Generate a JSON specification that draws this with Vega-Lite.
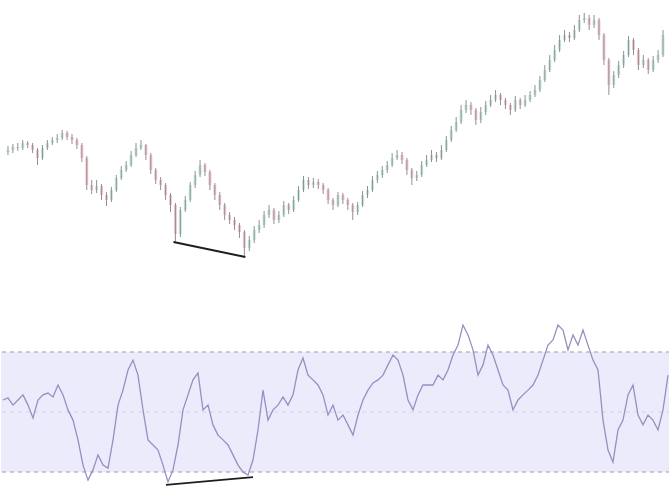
{
"$schema": "https://vega.github.io/schema/vega-lite/v6.json",
"padding": 0,
"spacing": 0,
"background": "white",
"config": {"view": {"stroke": null}},
"datasets": {
"bars": [
{"i":0,"o":148,"h":154,"l":145,"c":150,"r":54.0},
{"i":1,"o":150,"h":156,"l":147,"c":153,"r":54.7},
{"i":2,"o":153,"h":157,"l":149,"c":152,"r":52.3},
{"i":3,"o":152,"h":160,"l":150,"c":157,"r":54.0},
{"i":4,"o":157,"h":159,"l":152,"c":155,"r":55.7},
{"i":5,"o":155,"h":157,"l":147,"c":150,"r":52.3},
{"i":6,"o":150,"h":152,"l":135,"c":142,"r":48.0},
{"i":7,"o":142,"h":155,"l":140,"c":152,"r":54.0},
{"i":8,"o":152,"h":160,"l":150,"c":157,"r":55.7},
{"i":9,"o":157,"h":163,"l":155,"c":160,"r":56.3},
{"i":10,"o":160,"h":166,"l":157,"c":162,"r":55.0},
{"i":11,"o":162,"h":170,"l":160,"c":167,"r":59.0},
{"i":12,"o":167,"h":169,"l":160,"c":163,"r":55.7},
{"i":13,"o":163,"h":166,"l":156,"c":160,"r":50.7},
{"i":14,"o":160,"h":162,"l":151,"c":155,"r":47.3},
{"i":15,"o":155,"h":157,"l":138,"c":142,"r":40.7},
{"i":16,"o":142,"h":144,"l":110,"c":115,"r":32.3},
{"i":17,"o":115,"h":120,"l":106,"c":110,"r":27.3},
{"i":18,"o":110,"h":120,"l":107,"c":114,"r":30.7},
{"i":19,"o":114,"h":116,"l":100,"c":105,"r":35.7},
{"i":20,"o":105,"h":108,"l":94,"c":100,"r":32.3},
{"i":21,"o":100,"h":113,"l":98,"c":110,"r":31.3},
{"i":22,"o":110,"h":125,"l":108,"c":122,"r":40.7},
{"i":23,"o":122,"h":134,"l":120,"c":130,"r":52.3},
{"i":24,"o":130,"h":139,"l":128,"c":135,"r":57.3},
{"i":25,"o":135,"h":149,"l":133,"c":145,"r":64.0},
{"i":26,"o":145,"h":157,"l":143,"c":152,"r":67.3},
{"i":27,"o":152,"h":160,"l":150,"c":155,"r":62.3},
{"i":28,"o":155,"h":156,"l":140,"c":145,"r":50.7},
{"i":29,"o":145,"h":147,"l":126,"c":130,"r":40.7},
{"i":30,"o":130,"h":132,"l":116,"c":120,"r":39.0},
{"i":31,"o":120,"h":123,"l":110,"c":115,"r":37.3},
{"i":32,"o":115,"h":117,"l":100,"c":105,"r":32.3},
{"i":33,"o":105,"h":107,"l":88,"c":95,"r":26.7},
{"i":34,"o":95,"h":97,"l":58,"c":66,"r":30.7},
{"i":35,"o":66,"h":93,"l":63,"c":90,"r":39.0},
{"i":36,"o":90,"h":104,"l":88,"c":100,"r":50.7},
{"i":37,"o":100,"h":118,"l":98,"c":115,"r":55.7},
{"i":38,"o":115,"h":129,"l":112,"c":125,"r":60.7},
{"i":39,"o":125,"h":140,"l":123,"c":135,"r":63.0},
{"i":40,"o":135,"h":137,"l":124,"c":128,"r":50.7},
{"i":41,"o":128,"h":130,"l":110,"c":115,"r":52.3},
{"i":42,"o":115,"h":117,"l":100,"c":105,"r":45.7},
{"i":43,"o":105,"h":108,"l":90,"c":95,"r":42.3},
{"i":44,"o":95,"h":97,"l":80,"c":85,"r":40.7},
{"i":45,"o":85,"h":88,"l":76,"c":80,"r":39.0},
{"i":46,"o":80,"h":83,"l":70,"c":75,"r":35.7},
{"i":47,"o":75,"h":77,"l":62,"c":68,"r":32.3},
{"i":48,"o":68,"h":70,"l":43,"c":52,"r":30.0},
{"i":49,"o":52,"h":64,"l":49,"c":60,"r":29.0},
{"i":50,"o":60,"h":74,"l":57,"c":70,"r":34.0},
{"i":51,"o":70,"h":80,"l":67,"c":75,"r":44.0},
{"i":52,"o":75,"h":89,"l":72,"c":85,"r":57.3},
{"i":53,"o":85,"h":95,"l":82,"c":90,"r":47.3},
{"i":54,"o":90,"h":92,"l":76,"c":80,"r":50.7},
{"i":55,"o":80,"h":89,"l":77,"c":85,"r":52.3},
{"i":56,"o":85,"h":99,"l":83,"c":95,"r":55.0},
{"i":57,"o":95,"h":97,"l":86,"c":90,"r":52.3},
{"i":58,"o":90,"h":104,"l":88,"c":100,"r":55.7},
{"i":59,"o":100,"h":114,"l":98,"c":110,"r":64.0},
{"i":60,"o":110,"h":124,"l":108,"c":120,"r":68.0},
{"i":61,"o":120,"h":123,"l":111,"c":115,"r":62.3},
{"i":62,"o":115,"h":122,"l":112,"c":118,"r":60.7},
{"i":63,"o":118,"h":121,"l":111,"c":115,"r":59.0},
{"i":64,"o":115,"h":117,"l":106,"c":110,"r":55.7},
{"i":65,"o":110,"h":112,"l":96,"c":100,"r":49.0},
{"i":66,"o":100,"h":102,"l":90,"c":95,"r":52.3},
{"i":67,"o":95,"h":108,"l":93,"c":105,"r":47.3},
{"i":68,"o":105,"h":107,"l":96,"c":100,"r":49.0},
{"i":69,"o":100,"h":102,"l":90,"c":95,"r":45.7},
{"i":70,"o":95,"h":97,"l":80,"c":88,"r":42.3},
{"i":71,"o":88,"h":98,"l":85,"c":95,"r":49.0},
{"i":72,"o":95,"h":109,"l":93,"c":105,"r":54.0},
{"i":73,"o":105,"h":114,"l":102,"c":110,"r":57.3},
{"i":74,"o":110,"h":124,"l":108,"c":120,"r":59.7},
{"i":75,"o":120,"h":129,"l":117,"c":125,"r":60.7},
{"i":76,"o":125,"h":134,"l":122,"c":130,"r":62.3},
{"i":77,"o":130,"h":139,"l":127,"c":135,"r":65.7},
{"i":78,"o":135,"h":147,"l":133,"c":142,"r":69.0},
{"i":79,"o":142,"h":150,"l":140,"c":145,"r":67.3},
{"i":80,"o":145,"h":148,"l":136,"c":140,"r":62.3},
{"i":81,"o":140,"h":142,"l":125,"c":130,"r":54.0},
{"i":82,"o":130,"h":132,"l":115,"c":122,"r":50.7},
{"i":83,"o":122,"h":129,"l":119,"c":125,"r":55.7},
{"i":84,"o":125,"h":139,"l":123,"c":135,"r":59.0},
{"i":85,"o":135,"h":145,"l":133,"c":140,"r":59.0},
{"i":86,"o":140,"h":150,"l":138,"c":145,"r":59.0},
{"i":87,"o":145,"h":148,"l":138,"c":142,"r":62.3},
{"i":88,"o":142,"h":155,"l":140,"c":150,"r":60.7},
{"i":89,"o":150,"h":164,"l":148,"c":160,"r":64.0},
{"i":90,"o":160,"h":174,"l":158,"c":170,"r":69.0},
{"i":91,"o":170,"h":183,"l":168,"c":178,"r":72.3},
{"i":92,"o":178,"h":195,"l":176,"c":190,"r":79.0},
{"i":93,"o":190,"h":200,"l":187,"c":195,"r":75.7},
{"i":94,"o":195,"h":198,"l":185,"c":190,"r":70.7},
{"i":95,"o":190,"h":192,"l":175,"c":180,"r":62.3},
{"i":96,"o":180,"h":193,"l":177,"c":188,"r":65.7},
{"i":97,"o":188,"h":199,"l":185,"c":195,"r":72.3},
{"i":98,"o":195,"h":205,"l":193,"c":200,"r":69.0},
{"i":99,"o":200,"h":210,"l":198,"c":205,"r":64.0},
{"i":100,"o":205,"h":207,"l":195,"c":200,"r":59.0},
{"i":101,"o":200,"h":202,"l":191,"c":195,"r":57.3},
{"i":102,"o":195,"h":197,"l":185,"c":190,"r":50.7},
{"i":103,"o":190,"h":204,"l":188,"c":200,"r":54.0},
{"i":104,"o":200,"h":202,"l":191,"c":195,"r":55.7},
{"i":105,"o":195,"h":205,"l":193,"c":200,"r":57.3},
{"i":106,"o":200,"h":209,"l":198,"c":205,"r":59.0},
{"i":107,"o":205,"h":215,"l":203,"c":210,"r":62.3},
{"i":108,"o":210,"h":224,"l":208,"c":220,"r":67.3},
{"i":109,"o":220,"h":235,"l":218,"c":230,"r":72.3},
{"i":110,"o":230,"h":245,"l":228,"c":240,"r":74.0},
{"i":111,"o":240,"h":255,"l":238,"c":250,"r":79.0},
{"i":112,"o":250,"h":265,"l":248,"c":260,"r":77.3},
{"i":113,"o":260,"h":270,"l":258,"c":265,"r":70.7},
{"i":114,"o":265,"h":268,"l":258,"c":262,"r":75.7},
{"i":115,"o":262,"h":275,"l":260,"c":270,"r":72.3},
{"i":116,"o":270,"h":285,"l":268,"c":280,"r":77.3},
{"i":117,"o":280,"h":287,"l":277,"c":282,"r":72.3},
{"i":118,"o":282,"h":285,"l":270,"c":275,"r":67.3},
{"i":119,"o":275,"h":285,"l":272,"c":280,"r":64.0},
{"i":120,"o":280,"h":282,"l":260,"c":265,"r":47.3},
{"i":121,"o":265,"h":267,"l":235,"c":240,"r":37.3},
{"i":122,"o":240,"h":242,"l":205,"c":215,"r":33.3},
{"i":123,"o":215,"h":229,"l":212,"c":225,"r":44.0},
{"i":124,"o":225,"h":239,"l":222,"c":235,"r":47.3},
{"i":125,"o":235,"h":249,"l":232,"c":245,"r":55.7},
{"i":126,"o":245,"h":264,"l":243,"c":260,"r":59.0},
{"i":127,"o":260,"h":262,"l":245,"c":250,"r":49.0},
{"i":128,"o":250,"h":252,"l":230,"c":235,"r":45.7},
{"i":129,"o":235,"h":245,"l":232,"c":240,"r":49.0},
{"i":130,"o":240,"h":242,"l":226,"c":230,"r":47.3},
{"i":131,"o":230,"h":244,"l":228,"c":240,"r":44.0},
{"i":132,"o":240,"h":250,"l":237,"c":245,"r":50.7},
{"i":133,"o":245,"h":270,"l":243,"c":265,"r":62.3}
],
"pdiv": [{"i":33.6,"v":58},{"i":48.2,"v":43}],
"rdiv": [{"i":32.6,"v":25.7},{"i":50.0,"v":28.3}],
"band": [{"lo":30,"hi":70}],
"levels": [{"v":70,"k":"a"},{"v":30,"k":"a"}],
"mid": [{"v":50}]
},
"vconcat": [
{
"width": 669,
"height": 300,
"layer": [
{
"data": {"name": "bars"},
"mark": {"type": "bar", "width": 3, "opacity": 0.75},
"encoding": {
"x": {"field": "i", "type": "quantitative", "scale": {"domain": [-0.4, 133.4], "nice": false, "zero": false}, "axis": null},
"y": {"field": "o", "type": "quantitative", "scale": {"domain": [0, 300], "nice": false, "zero": false}, "axis": null},
"y2": {"field": "c"},
"color": {"condition": {"test": "datum.c >= datum.o", "value": "#b3e3d6"}, "value": "#f3b6c0"}
}
},
{
"data": {"name": "bars"},
"mark": {"type": "rule", "color": "#909090", "strokeWidth": 1},
"encoding": {
"x": {"field": "i", "type": "quantitative"},
"y": {"field": "l", "type": "quantitative"},
"y2": {"field": "h"}
}
},
{
"data": {"name": "pdiv"},
"mark": {"type": "line", "color": "#1e1e1e", "strokeWidth": 2},
"encoding": {
"x": {"field": "i", "type": "quantitative"},
"y": {"field": "v", "type": "quantitative"}
}
}
]
},
{
"width": 669,
"height": 194,
"layer": [
{
"data": {"name": "band"},
"mark": {"type": "rect", "color": "#ecebfb"},
"encoding": {
"y": {"field": "lo", "type": "quantitative", "scale": {"domain": [22.667, 87.333], "nice": false, "zero": false}, "axis": null},
"y2": {"field": "hi"}
}
},
{
"data": {"name": "levels"},
"mark": {"type": "rule", "color": "#9a9aa6", "strokeWidth": 1, "strokeDash": [4, 4]},
"encoding": {"y": {"field": "v", "type": "quantitative"}}
},
{
"data": {"name": "mid"},
"mark": {"type": "rule", "color": "#d4d3e6", "strokeWidth": 1, "strokeDash": [4, 4]},
"encoding": {"y": {"field": "v", "type": "quantitative"}}
},
{
"data": {"name": "bars"},
"mark": {"type": "line", "color": "#958fc2", "strokeWidth": 1.3},
"encoding": {
"x": {"field": "i", "type": "quantitative", "scale": {"domain": [-0.4, 133.4], "nice": false, "zero": false}, "axis": null},
"y": {"field": "r", "type": "quantitative"}
}
},
{
"data": {"name": "rdiv"},
"mark": {"type": "line", "color": "#1e1e1e", "strokeWidth": 1.6},
"encoding": {
"x": {"field": "i", "type": "quantitative"},
"y": {"field": "v", "type": "quantitative"}
}
}
]
}
]
}
